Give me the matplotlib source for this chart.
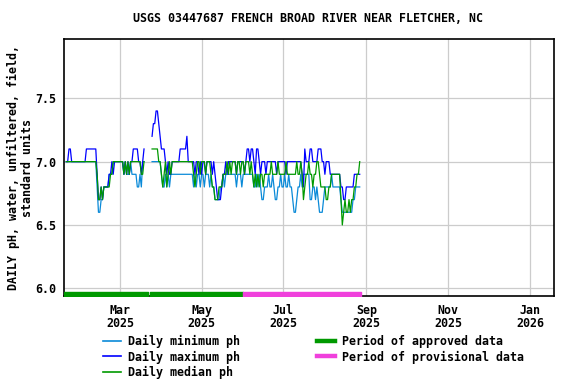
import numpy as np
import pandas as pd
import matplotlib
matplotlib.use('Agg')
import matplotlib.pyplot as plt
import matplotlib.dates as mdates
from matplotlib.lines import Line2D

nan = np.nan

# daily values starting 2025-01-20
start_date = '2025-01-20'

ph_min = [
    7.0, 7.0, 7.0, 7.0, 7.0, 7.0, 7.0, 7.0, 7.0, 7.0,
    7.0, 7.0, 7.0, 7.0, 7.0, 7.0, 7.0, 7.0, 7.0, 7.0,
    7.0, 7.0, 7.0, 6.8, 6.6, 6.6, 6.7, 6.7, 6.8, 6.8,
    6.8, 6.8, 6.9, 6.9, 6.9, 7.0, 7.0, 7.0, 7.0, 7.0,
    7.0, 7.0, 7.0, 6.9, 7.0, 6.9, 6.9, 6.9, 7.0, 6.9,
    6.9, 6.9, 6.9, 6.8, 6.8, 6.9, 6.8, 7.0, 7.0, nan,
    nan, nan, nan, nan, 7.0, 7.0, 7.0, 7.0, 7.0, 7.0,
    7.0, 6.9, 6.8, 6.8, 6.9, 6.8, 6.9, 6.8, 6.9, 6.9,
    6.9, 6.9, 6.9, 6.9, 6.9, 6.9, 6.9, 6.9, 6.9, 6.9,
    6.9, 6.9, 6.9, 6.9, 6.9, 6.8, 6.9, 6.8, 6.9, 6.9,
    6.8, 6.9, 6.9, 6.8, 6.9, 6.9, 6.9, 6.8, 6.9, 6.8,
    6.8, 6.7, 6.7, 6.7, 6.7, 6.8, 6.8, 6.9, 6.8, 6.9,
    6.9, 6.9, 6.9, 6.9, 6.9, 6.9, 6.9, 6.8, 6.9, 6.9,
    6.9, 6.8, 6.9, 6.9, 6.9, 6.9, 6.9, 6.9, 6.9, 6.9,
    6.8, 6.8, 6.9, 6.8, 6.9, 6.8, 6.7, 6.7, 6.8, 6.8,
    6.8, 6.9, 6.8, 6.8, 6.9, 6.8, 6.7, 6.7, 6.8, 6.8,
    6.9, 6.8, 6.8, 6.9, 6.8, 6.8, 6.9, 6.8, 6.8, 6.7,
    6.6, 6.6, 6.7, 6.8, 6.8, 6.9, 6.8, 6.9, 6.9, 6.9,
    6.9, 6.9, 6.7, 6.7, 6.8, 6.8, 6.7, 6.8, 6.7, 6.6,
    6.6, 6.6, 6.7, 6.8, 6.8, 6.8, 6.8, 6.8, 6.9, 6.8,
    6.8, 6.8, 6.8, 6.8, 6.8, 6.7, 6.6, 6.6, 6.6, 6.6,
    6.6, 6.6, 6.6, 6.6, 6.7, 6.7, 6.8, 6.8, 6.8, 6.8,
]

ph_max = [
    7.0, 7.0, 7.1, 7.1, 7.0, 7.0, 7.0, 7.0, 7.0, 7.0,
    7.0, 7.0, 7.0, 7.0, 7.0, 7.1, 7.1, 7.1, 7.1, 7.1,
    7.1, 7.1, 7.1, 6.9, 6.7, 6.7, 6.8, 6.7, 6.8, 6.8,
    6.8, 6.8, 6.9, 6.9, 7.0, 6.9, 7.0, 7.0, 7.0, 7.0,
    7.0, 7.0, 7.0, 6.9, 7.0, 6.9, 7.0, 6.9, 7.0, 7.0,
    7.1, 7.1, 7.1, 7.1, 7.0, 7.0, 6.9, 7.0, 7.1, nan,
    nan, nan, nan, nan, 7.2, 7.3, 7.3, 7.4, 7.4, 7.3,
    7.2, 7.1, 7.1, 7.1, 7.0, 6.9, 7.0, 6.9, 6.9, 7.0,
    7.0, 7.0, 7.0, 7.0, 7.0, 7.1, 7.1, 7.1, 7.1, 7.1,
    7.2, 7.0, 7.0, 7.0, 7.0, 7.0, 6.9, 7.0, 7.0, 6.9,
    7.0, 6.9, 7.0, 7.0, 6.9, 7.0, 7.0, 7.0, 7.0, 6.9,
    7.0, 6.9, 6.8, 6.7, 6.7, 6.7, 6.8, 6.9, 6.9, 7.0,
    6.9, 7.0, 7.0, 7.0, 7.0, 7.0, 7.0, 6.9, 7.0, 7.0,
    7.0, 7.0, 7.0, 6.9, 7.0, 7.1, 7.1, 7.0, 7.1, 7.1,
    7.0, 6.9, 7.1, 7.1, 7.0, 6.9, 7.0, 7.0, 7.0, 6.9,
    7.0, 7.0, 7.0, 7.0, 7.0, 7.0, 7.0, 6.9, 7.0, 7.0,
    7.0, 7.0, 7.0, 7.0, 6.9, 7.0, 7.0, 7.0, 7.0, 7.0,
    7.0, 7.0, 7.0, 7.0, 7.0, 7.0, 6.9, 6.8, 7.1, 7.0,
    7.0, 7.0, 7.1, 7.1, 7.0, 7.0, 7.0, 7.0, 7.1, 7.1,
    7.1, 7.0, 7.0, 6.9, 7.0, 7.0, 7.0, 6.9, 6.9, 6.9,
    6.9, 6.9, 6.9, 6.9, 6.9, 6.8, 6.8, 6.7, 6.7, 6.8,
    6.8, 6.8, 6.8, 6.8, 6.8, 6.9, 6.9, 6.9, 6.9, 6.9,
]

ph_median = [
    7.0, 7.0, 7.0, 7.0, 7.0, 7.0, 7.0, 7.0, 7.0, 7.0,
    7.0, 7.0, 7.0, 7.0, 7.0, 7.0, 7.0, 7.0, 7.0, 7.0,
    7.0, 7.0, 7.0, 6.9, 6.7, 6.7, 6.8, 6.7, 6.8, 6.8,
    6.8, 6.8, 6.8, 6.9, 6.9, 7.0, 7.0, 7.0, 7.0, 7.0,
    7.0, 7.0, 7.0, 6.9, 7.0, 6.9, 7.0, 6.9, 7.0, 7.0,
    7.0, 7.0, 7.0, 7.0, 7.0, 7.0, 6.9, 6.9, 7.0, nan,
    nan, nan, nan, nan, 7.1, 7.1, 7.1, 7.1, 7.1, 7.0,
    7.0, 6.9, 6.8, 6.9, 7.0, 6.8, 6.9, 7.0, 6.9, 7.0,
    7.0, 7.0, 7.0, 7.0, 7.0, 7.0, 7.0, 7.0, 7.0, 7.0,
    7.0, 7.0, 7.0, 7.0, 7.0, 6.9, 6.8, 6.9, 7.0, 7.0,
    6.9, 7.0, 7.0, 7.0, 6.9, 7.0, 7.0, 7.0, 6.9, 6.8,
    6.8, 6.7, 6.7, 6.7, 6.8, 6.8, 6.8, 6.9, 6.9, 6.9,
    7.0, 6.9, 7.0, 6.9, 7.0, 7.0, 7.0, 6.9, 7.0, 7.0,
    6.9, 7.0, 7.0, 6.9, 7.0, 7.0, 7.0, 6.9, 7.0, 6.9,
    6.8, 6.9, 6.8, 6.9, 6.8, 6.9, 6.9, 6.8, 6.9, 6.9,
    6.9, 6.9, 6.9, 7.0, 6.9, 6.9, 6.9, 6.9, 7.0, 6.9,
    6.9, 6.9, 6.9, 6.9, 7.0, 6.9, 6.9, 6.9, 6.9, 6.9,
    6.9, 6.9, 7.0, 6.9, 6.9, 7.0, 6.9, 6.7, 6.8, 6.9,
    6.9, 7.0, 6.9, 6.9, 6.8, 6.9, 6.9, 7.0, 7.0, 6.9,
    6.8, 6.8, 6.8, 6.8, 6.7, 6.7, 6.8, 6.8, 6.9, 6.9,
    6.9, 6.9, 6.9, 6.9, 6.9, 6.7, 6.5, 6.6, 6.7, 6.6,
    6.6, 6.7, 6.6, 6.7, 6.7, 6.8, 6.8, 6.9, 6.9, 7.0,
]

# data-approval periods (start, end)
approved_periods = [('2025-01-18', '2025-03-21 16:00'),
                    ('2025-03-23 12:00', '2025-06-01')]
provisional_periods = [('2025-06-01', '2025-08-28')]

x_limits = ('2025-01-18 12:00', '2026-01-19')
y_limits = (5.939, 7.966)
y_ticks = [6.0, 6.5, 7.0, 7.5]

title = 'USGS 03447687 FRENCH BROAD RIVER NEAR FLETCHER, NC'
y_label = 'DAILY pH, water, unfiltered, field,\nstandard units'

c_min = '#0a8ad8'
c_max = '#0000ff'
c_median = '#009900'
c_approved = '#009900'
c_provisional = '#f040dc'

plt.rcParams['font.family'] = ['DejaVu Sans Mono']
plt.rcParams['font.weight'] = 'bold'
fsize = 8.4

dates = pd.date_range(start_date, periods=len(ph_min), freq='D')

fig = plt.figure(figsize=(5.76, 3.84), dpi=100)
ax = fig.add_axes([64.3 / 576, 1 - 296 / 384, (554 - 64.3) / 576, (296 - 39.3) / 384])

ax.plot(dates, ph_min, color=c_min, lw=0.9, zorder=3)
ax.plot(dates, ph_max, color=c_max, lw=0.9, zorder=3)
ax.plot(dates, ph_median, color=c_median, lw=0.9, zorder=4)

# approval status bars along the bottom of the plot
bar_y = y_limits[0]
bar_h = 0.034
for s, e in approved_periods:
    s, e = mdates.date2num(pd.Timestamp(s)), mdates.date2num(pd.Timestamp(e))
    ax.broken_barh([(s, e - s)], (bar_y, bar_h), color=c_approved, zorder=5)
for s, e in provisional_periods:
    s, e = mdates.date2num(pd.Timestamp(s)), mdates.date2num(pd.Timestamp(e))
    ax.broken_barh([(s, e - s)], (bar_y, bar_h), color=c_provisional, zorder=5)

ax.set_xlim(pd.Timestamp(x_limits[0]), pd.Timestamp(x_limits[1]))
ax.set_ylim(*y_limits)
ax.set_yticks(y_ticks)
ax.set_yticklabels([f'{v:.1f}' for v in y_ticks])
ax.xaxis.set_major_locator(mdates.MonthLocator(bymonth=[1, 3, 5, 7, 9, 11]))
ax.xaxis.set_major_formatter(mdates.DateFormatter('%b\n%Y'))

ax.grid(True, color='#cccccc', lw=0.9)
ax.set_axisbelow(True)
ax.tick_params(length=0, labelsize=fsize)
ax.tick_params(axis='y', pad=6)
ax.tick_params(axis='x', pad=6)
for lbl in ax.get_xticklabels():
    lbl.set_linespacing(1.0)
for sp in ax.spines.values():
    sp.set_linewidth(1.2)
    sp.set_color('black')

fig.text(308 / 576, 1 - 19 / 384, title, ha='center', va='center',
         fontsize=fsize, fontweight='bold')
fig.text(20 / 576, 1 - 167.5 / 384, y_label, ha='center', va='center',
         rotation=90, fontsize=fsize, fontweight='bold', multialignment='center',
         linespacing=1.1)

handles = [
    Line2D([], [], color=c_min, lw=1.2),
    Line2D([], [], color=c_max, lw=1.2),
    Line2D([], [], color=c_median, lw=1.2),
    Line2D([], [], color=c_approved, lw=3.2),
    Line2D([], [], color=c_provisional, lw=3.2),
]
labels = ['Daily minimum ph', 'Daily maximum ph', 'Daily median ph',
          'Period of approved data', 'Period of provisional data']
fig.legend(handles, labels, loc='upper left', ncol=2, frameon=False,
           bbox_to_anchor=(103.3 / 576, 1 - 335 / 384),
           fontsize=fsize, handlelength=1.55, handletextpad=0.6,
           columnspacing=6.6, labelspacing=0.2, borderpad=0, borderaxespad=0)

fig.savefig('out.png', dpi=100)
